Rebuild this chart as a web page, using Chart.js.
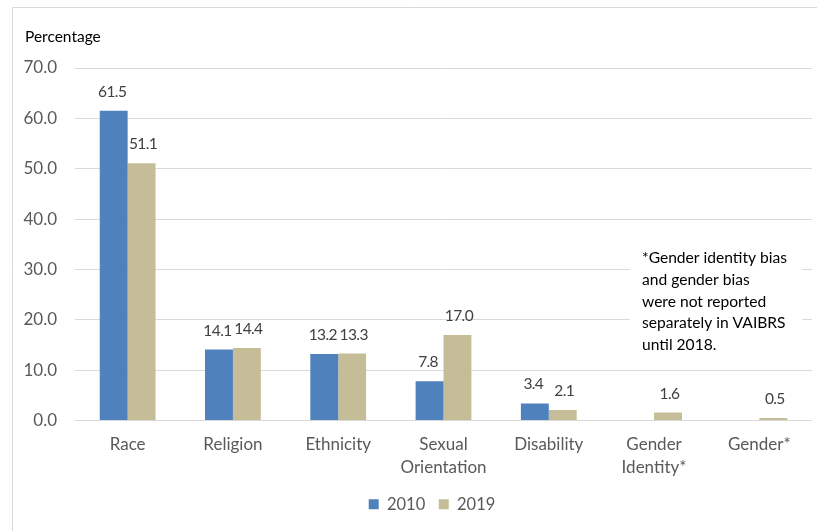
<!DOCTYPE html>
<html>
<head>
<meta charset="utf-8">
<script src="https://cdn.jsdelivr.net/npm/chart.js@4/dist/chart.umd.min.js"></script>
<style>
  html, body { margin: 0; padding: 0; background: #fff; }
  #wrap { position: relative; width: 817px; height: 531px; }
</style>
</head>
<body>
<div id="wrap"><canvas id="chart" width="817" height="531"></canvas></div>
<script>
const categories = [
  'Race', 'Religion', 'Ethnicity', ['Sexual', 'Orientation'],
  'Disability', ['Gender', 'Identity*'], 'Gender*'
];
const years = ['2010', '2019'];
const values2010 = [61.5, 14.1, 13.2, 7.8, 3.4, null, null];
const values2019 = [51.1, 14.4, 13.3, 17.0, 2.1, 1.6, 0.5];
const yTicks = [0, 10, 20, 30, 40, 50, 60, 70];
const note = [
  '*Gender identity bias',
  'and gender bias',
  'were not reported',
  'separately in VAIBRS',
  'until 2018.'
];

const FONT = 'Lato, "Open Sans", sans-serif';

// outer frame, axis title, value labels and the note box
const extras = {
  id: 'extras',
  afterLayout(chart) {
    // nudge the legend to the right, it sits under the plot area in the original
    chart.legend.left += 20;
    chart.legend.right += 20;
  },
  beforeDraw(chart) {
    const ctx = chart.ctx;
    ctx.save();
    ctx.strokeStyle = '#d9d9d9';
    ctx.lineWidth = 1;
    ctx.beginPath();
    ctx.moveTo(12.5, 540);
    ctx.lineTo(12.5, 7.5);
    ctx.lineTo(830, 7.5);
    ctx.stroke();
    ctx.restore();
  },
  afterDatasetsDraw(chart) {
    const ctx = chart.ctx;
    ctx.save();
    ctx.font = '15.5px ' + FONT;
    ctx.letterSpacing = '-0.6px';
    ctx.fillStyle = '#404040';
    ctx.textAlign = 'center';
    ctx.textBaseline = 'middle';
    chart.data.datasets.forEach((ds, i) => {
      chart.getDatasetMeta(i).data.forEach((bar, j) => {
        const v = ds.data[j];
        if (v === null || v === undefined) return;
        ctx.fillText(v.toFixed(1), bar.x + (i === 0 ? -1.5 : 1.5), bar.y - 19);
      });
    });
    ctx.letterSpacing = '0px';

    // title
    ctx.font = '15.5px ' + FONT;
    ctx.fillStyle = '#000';
    ctx.textAlign = 'left';
    ctx.fillText('Percentage', 25, 37);

    // note
    ctx.fillStyle = '#fff';
    ctx.fillRect(630, 244, 172, 112);
    ctx.font = '15.6px ' + FONT;
    ctx.fillStyle = '#000';
    note.forEach((line, k) => {
      ctx.fillText(line, 642, 258 + k * 21.8);
    });
    ctx.restore();
  }
};

new Chart(document.getElementById('chart'), {
  type: 'bar',
  data: {
    labels: categories,
    datasets: [
      { label: years[0], data: values2010, backgroundColor: '#4F81BD' },
      { label: years[1], data: values2019, backgroundColor: '#C4BD97' }
    ]
  },
  options: {
    responsive: false,
    animation: false,
    layout: { padding: { top: 68, right: 5, left: 12, bottom: 8.5 } },
    datasets: { bar: { categoryPercentage: 0.53, barPercentage: 1.0 } },
    scales: {
      x: {
        grid: { display: false },
        border: { display: false },
        ticks: { color: '#595959', font: { size: 17, family: FONT, lineHeight: 1.35 }, maxRotation: 0, padding: 4 }
      },
      y: {
        min: 0,
        max: 70,
        afterBuildTicks(scale) { scale.ticks = yTicks.map(v => ({ value: v })); },
        afterFit(scale) { scale.width = 63; },
        grid: { color: '#d9d9d9', drawTicks: false },
        border: { display: false },
        ticks: {
          color: '#595959',
          font: { size: 17, family: FONT },
          padding: 18,
          callback: v => v.toFixed(1)
        }
      }
    },
    plugins: {
      legend: {
        position: 'bottom',
        labels: {
          color: '#595959',
          font: { size: 16.5, family: FONT },
          boxWidth: 10,
          boxHeight: 10,
          padding: 13.5
        }
      },
      tooltip: { enabled: false }
    }
  },
  plugins: [extras]
});
</script>
</body>
</html>
